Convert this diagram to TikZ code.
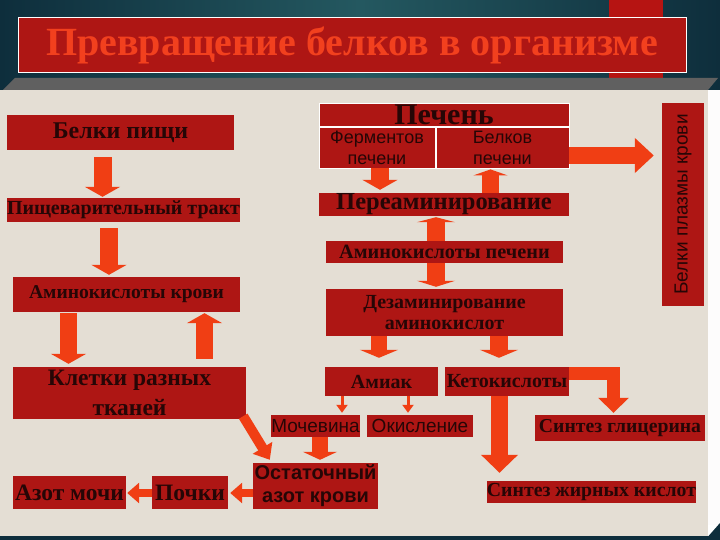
\documentclass[tikz,border=0pt]{standalone}
\usepackage{fontspec}
\setmainfont{Liberation Serif}
\newfontfamily\sansf{Liberation Sans}
\usetikzlibrary{arrows.meta}

\definecolor{boxred}{RGB}{174,22,20}
\definecolor{arrowred}{RGB}{240,62,20}
\definecolor{ink}{RGB}{38,6,6}
\definecolor{paper}{RGB}{228,222,212}
\definecolor{tealdark}{RGB}{14,46,60}
\definecolor{teallight}{RGB}{36,88,96}
\definecolor{titlered}{RGB}{242,64,30}

\begin{document}
\begin{tikzpicture}[x=1pt, y=-1pt,
    box/.style={fill=boxred, text=ink, inner sep=0pt, align=center},
    fat/.style={draw=arrowred, line width=18pt, -{Triangle[width=35pt,length=10pt]}},
    slim/.style={draw=arrowred, line width=3pt, -{Triangle[width=11pt,length=8pt]}}]
    \useasboundingbox (0,0) rectangle (720,540);

    % slide background
    \shade[left color=tealdark, right color=tealdark, middle color=teallight] (0,0) rectangle (720,90);
    \fill[boxred!90!red] (609,0) rectangle (663,78);
    \fill[paper] (0,90) rectangle (708,537);
    \fill[white!92!paper] (708,90) rectangle (720,525);
    \fill[gray!75!black] (15,78) -- (718,78) -- (708,90) -- (3,90) -- cycle;
    \fill[tealdark] (0,536) rectangle (720,540);
    \fill[tealdark] (705,540) -- (720,523) -- (720,540) -- cycle;

    \node[box, draw=white, line width=1pt, minimum width=668pt, minimum height=55pt,
      text=titlered, font=\bfseries\fontsize{40}{40}\selectfont] (title) at (352,45.5)
      {Превращение белков в организме};

    % left column
    \node[box, minimum width=227pt, minimum height=35pt, font=\bfseries\fontsize{24}{24}\selectfont] (food) at (120.5,132.5) {Белки пищи};
    \node[box, minimum width=233pt, minimum height=24pt, font=\bfseries\fontsize{20}{20}\selectfont] (tract) at (123.5,210) {Пищеварительный тракт};
    \node[box, minimum width=227pt, minimum height=35pt, font=\bfseries\fontsize{19.6}{20}\selectfont] (blood) at (126.5,294.5) {Аминокислоты крови};
    \node[box, minimum width=233pt, minimum height=52pt, font=\bfseries\fontsize{23.5}{30}\selectfont] (cells) at (129.5,393) {Клетки разных\\тканей};
    \node[box, minimum width=125pt, minimum height=46pt, font=\sansf\bfseries\fontsize{20}{23}\selectfont] (resid) at (315.5,486) {Остаточный\\азот крови};
    \node[box, minimum width=76pt, minimum height=33pt, font=\bfseries\fontsize{23.5}{23.5}\selectfont] (kidney) at (190,492.5) {Почки};
    \node[box, minimum width=113pt, minimum height=33pt, font=\bfseries\fontsize{23.5}{23.5}\selectfont] (urine) at (69.5,492.5) {Азот мочи};

    % liver
    \node[box, draw=white, line width=0.8pt, minimum width=250pt, minimum height=23pt, text height=20pt, text depth=0pt,
      font=\bfseries\fontsize{30}{30}\selectfont] (liver) at (444,114.5) {Печень};
    \node[box, draw=white, line width=0.8pt, minimum width=116pt, minimum height=41pt, font=\sansf\fontsize{18}{21}\selectfont] (enz) at (377,147.5) {Ферментов\\печени};
    \node[box, draw=white, line width=0.8pt, minimum width=133pt, minimum height=41pt, font=\sansf\fontsize{18}{21}\selectfont] (lprot) at (502.5,147.5) {Белков\\печени};
    \node[box, rotate=90, minimum width=203pt, minimum height=42pt, font=\sansf\fontsize{19}{19}\selectfont] (plasma) at (683,204.5) {Белки плазмы крови};
    \node[box, minimum width=250pt, minimum height=23pt, font=\bfseries\fontsize{24.5}{24.5}\selectfont] (trans) at (444,204.5) {Переаминирование};
    \node[box, minimum width=237pt, minimum height=22pt, font=\bfseries\fontsize{20.3}{20.3}\selectfont] (laa) at (444.5,252) {Аминокислоты печени};
    \node[box, minimum width=237pt, minimum height=47pt, font=\bfseries\fontsize{20}{21}\selectfont] (deam) at (444.5,312.5) {Дезаминирование\\аминокислот};
    \node[box, minimum width=113pt, minimum height=29pt, font=\bfseries\fontsize{20}{20}\selectfont] (ammon) at (381.5,381.5) {Амиак};
    \node[box, minimum width=124pt, minimum height=29pt, font=\bfseries\fontsize{20}{20}\selectfont] (keto) at (507,381.5) {Кетокислоты};
    \node[box, minimum width=89pt, minimum height=22pt, font=\sansf\fontsize{19}{19}\selectfont] (urea) at (315.5,426) {Мочевина};
    \node[box, minimum width=106pt, minimum height=22pt, font=\sansf\fontsize{19}{19}\selectfont] (oxid) at (420,426) {Окисление};
    \node[box, minimum width=170pt, minimum height=26pt, font=\bfseries\fontsize{19.7}{19.7}\selectfont] (glyc) at (620,428) {Синтез глицерина};
    \node[box, minimum width=209pt, minimum height=22pt, font=\bfseries\fontsize{19.8}{19.8}\selectfont] (fatty) at (591.5,492) {Синтез жирных кислот};

    % block arrows
    \draw[fat] ([xshift=-18pt,yshift=-7pt]food.south) -- ([xshift=-21pt,yshift=1pt]tract.north);
    \draw[fat] ([xshift=-14.5pt,yshift=-6pt]tract.south) -- ([xshift=-17.5pt,yshift=2pt]blood.north);
    \draw[fat, line width=17pt] ([xshift=-58pt,yshift=-1pt]blood.south) -- ([xshift=-61pt,yshift=3pt]cells.north);
    \draw[fat, line width=17pt] ([xshift=75pt,yshift=8pt]cells.north) -- ([xshift=78pt,yshift=-1pt]blood.south);
    \draw[fat, line width=10pt, -{Triangle[width=22pt,length=14pt]}] ([xshift=-3pt,yshift=3pt]cells.south east) -- ([xshift=17pt,yshift=3pt]resid.north west);
    \draw[fat, line width=8pt, -{Triangle[width=20pt,length=12pt]}] ([yshift=-7pt]resid.west) -- ([xshift=2pt,yshift=-0.5pt]kidney.east);
    \draw[fat, line width=8pt, -{Triangle[width=20pt,length=12pt]}] ([yshift=-0.5pt]kidney.west) -- ([xshift=1pt,yshift=-0.5pt]urine.east);

    \draw[fat] ([xshift=3pt]enz.south) -- ([xshift=-64pt,yshift=3pt]trans.north);
    \draw[fat, line width=17pt, -{Triangle[width=34pt,length=6pt]}] ([xshift=46.5pt]trans.north) -- ([xshift=-12pt,yshift=-1pt]lprot.south);
    \draw[fat, line width=17pt, -{Triangle[width=34pt,length=19pt]}] ([yshift=-8pt]lprot.east) -- ([xshift=-8pt,yshift=49pt]plasma.north);
    \draw[fat, -{Triangle[width=38pt,length=5pt]}] ([xshift=-8.5pt]laa.north) -- ([xshift=-8pt,yshift=-1pt]trans.south);
    \draw[fat, -{Triangle[width=38pt,length=6pt]}] ([xshift=-8.5pt]laa.south) -- ([xshift=-8.5pt,yshift=2pt]deam.north);
    \draw[fat, line width=16pt, -{Triangle[width=38pt,length=8pt]}] ([xshift=-65.5pt]deam.south) -- ([xshift=-2.5pt,yshift=9pt]ammon.north);
    \draw[fat, line width=18pt, -{Triangle[width=38pt,length=8pt]}] ([xshift=54.5pt]deam.south) -- ([xshift=-8pt,yshift=9pt]keto.north);
    \draw[slim] ([xshift=-39.5pt]ammon.south) -- ([xshift=26.5pt,yshift=2pt]urea.north);
    \draw[slim] ([xshift=26.5pt]ammon.south) -- ([xshift=-12pt,yshift=2pt]oxid.north);
    \draw[fat, line width=16pt, -{Triangle[width=34pt,length=8pt]}] ([xshift=4.5pt]urea.south) -- ([xshift=4.5pt,yshift=3pt]resid.north);
    \draw[fat, line width=17pt, -{Triangle[width=36pt,length=18pt]}] ([xshift=-7.5pt]keto.south) -- ([xshift=-92pt,yshift=8pt]fatty.north);
    \draw[fat, line width=13pt, line join=miter, -{Triangle[width=30pt,length=15pt]}] ([yshift=8pt]keto.east) -| ([xshift=-6.5pt,yshift=2pt]glyc.north);
\end{tikzpicture}
\end{document}
